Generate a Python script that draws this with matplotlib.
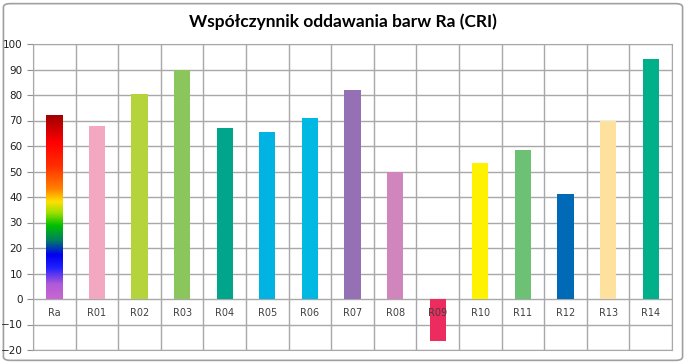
import numpy as np
from matplotlib import pyplot as plt
from matplotlib.patches import FancyBboxPatch
from matplotlib.colors import LinearSegmentedColormap

kategorie = ['Ra', 'R01', 'R02', 'R03', 'R04', 'R05', 'R06', 'R07',
             'R08', 'R09', 'R10', 'R11', 'R12', 'R13', 'R14']
wartosci = [72, 68, 80.5, 90, 67, 65.5, 71, 82, 50, -16.5, 53.5, 58.5, 41, 70, 94]
kolory = ['#c00000', '#f4a7c1', '#b5d33a', '#8ac65c', '#00a58c', '#00b3e3',
          '#00b9e3', '#9670b4', '#d185bd', '#ec2b5f', '#fff200', '#6dc175',
          '#006ab6', '#fde19c', '#00b08b']

# gradient dla Ra (od dołu do góry)
tecza = LinearSegmentedColormap.from_list('tecza', [
    (0.00, '#c867d0'), (0.08, '#b05ad8'), (0.17, '#2020ff'), (0.24, '#0000f0'),
    (0.32, '#008060'), (0.40, '#00c000'), (0.47, '#a0e000'), (0.53, '#ffe000'),
    (0.60, '#ff8000'), (0.72, '#ff3000'), (0.85, '#ff0000'), (1.00, '#a00000')])

fig = plt.figure(figsize=(6.86, 3.64), dpi=100)
ramka = FancyBboxPatch((0.005, 0.01), 0.99, 0.98, boxstyle='round,pad=0,rounding_size=0.01',
                       transform=fig.transFigure, fc='white', ec='#a0a0a0', lw=1.2, zorder=-5)
fig.patches.append(ramka)
ax = fig.add_axes([33 / 686, 1 - 350 / 364, (672 - 33) / 686, (350 - 44) / 364])

x = np.arange(len(kategorie))
bary = ax.bar(x, wartosci, width=0.38, color=kolory, zorder=2)

# gradient w słupku Ra
b = bary[0]
b.set_facecolor('none')
b.set_edgecolor('none')
im = ax.imshow(np.linspace(0, 1, 256).reshape(-1, 1), cmap=tecza, origin='lower', aspect='auto',
               extent=(b.get_x(), b.get_x() + b.get_width(), 0, wartosci[0]), zorder=2)
im.set_clip_path(b)

for i, k in enumerate(kategorie):
    ax.text(i, -5.6, k, ha='center', va='center', fontsize=7, color='#404040', zorder=3)

ax.set_xlim(-0.5, len(kategorie) - 0.5)
ax.set_ylim(-20, 100)
ax.set_yticks(range(-20, 101, 10))
ax.set_xticks(np.arange(len(kategorie) + 1) - 0.5)
ax.set_xticklabels([])
ax.tick_params(axis='x', length=0)
ax.tick_params(axis='y', labelsize=7.5, length=4, color='#909090', labelcolor='#202020')
ax.grid(True, color='#a8a8a8', lw=1, zorder=0)
ax.set_axisbelow(True)
for s in ax.spines.values():
    s.set_color('#a8a8a8')
ax.patch.set_alpha(0)

fig.text(0.5, 1 - 22 / 364, 'Współczynnik oddawania barw Ra (CRI)', ha='center', va='center',
         fontsize=12.5, fontweight='bold', family='Lato')

plt.savefig('out.png', dpi=100)
